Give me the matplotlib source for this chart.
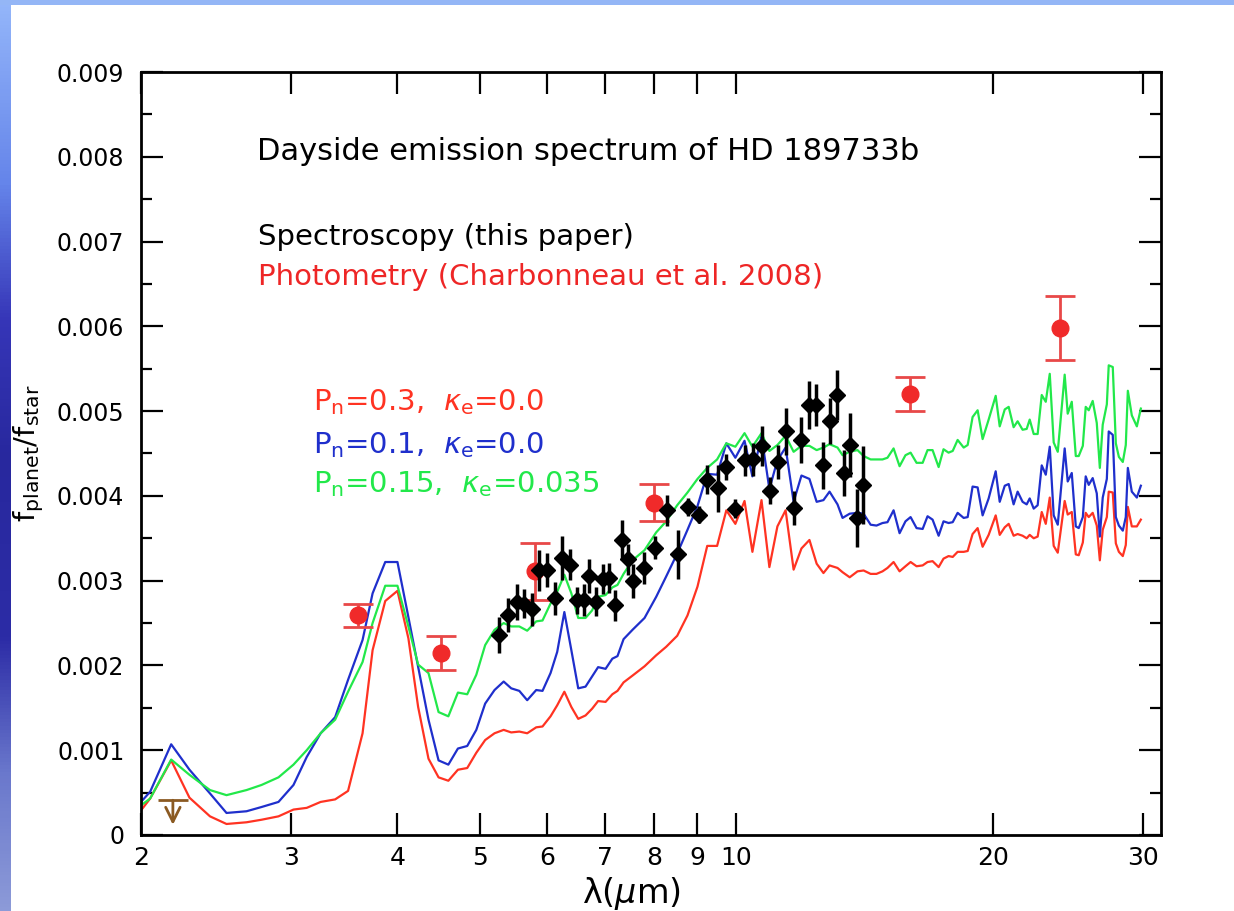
import matplotlib
matplotlib.use('Agg')
import matplotlib.pyplot as plt
import numpy as np
from matplotlib.ticker import MultipleLocator, NullLocator

# model spectra on a common wavelength grid (microns), values in units of 1e-3
wl_model = [2.00, 2.05, 2.17, 2.28, 2.41, 2.52, 2.66, 2.77, 2.90, 3.02,
            3.13, 3.25, 3.38, 3.50, 3.64, 3.74, 3.87, 4.00, 4.12, 4.23,
            4.35, 4.47, 4.59, 4.71, 4.83, 4.95, 5.07, 5.20, 5.33, 5.44,
            5.56, 5.68, 5.82, 5.92, 6.05, 6.16, 6.28, 6.40, 6.52, 6.65,
            6.77, 6.88, 7.02, 7.15, 7.25, 7.37, 7.55, 7.80, 8.05, 8.27,
            8.52, 8.76, 9.00, 9.24, 9.49, 9.73, 9.97, 10.22, 10.44, 10.70,
            10.93, 11.17, 11.42, 11.67, 11.92, 12.18, 12.42, 12.65, 12.86, 13.14,
            13.32, 13.58, 13.87, 14.10, 14.37, 14.60, 14.84, 15.04, 15.29, 15.54,
            15.79, 16.01, 16.27, 16.54, 16.76, 16.99, 17.27, 17.50, 17.74, 17.94,
            18.18, 18.48, 18.68, 18.93, 19.19, 19.45, 19.77, 20.15, 20.37, 20.65,
            20.87, 21.15, 21.38, 21.67, 21.91, 22.09, 22.33, 22.57, 22.82, 23.07,
            23.32, 23.57, 23.83, 24.28, 24.48, 24.75, 25.02, 25.22, 25.50, 25.70,
            25.91, 26.19, 26.48, 26.70, 26.91, 27.21, 27.35, 27.65, 27.88, 28.11,
            28.41, 28.64, 28.80, 29.11, 29.51, 29.83]

# Pn=0.3, ke=0.0
red_model = [0.29, 0.43, 0.88, 0.44, 0.22, 0.13, 0.15, 0.18, 0.22, 0.30,
             0.32, 0.39, 0.42, 0.52, 1.20, 2.18, 2.76, 2.88, 2.32, 1.51,
             0.90, 0.68, 0.64, 0.77, 0.79, 0.97, 1.12, 1.20, 1.24, 1.21,
             1.22, 1.20, 1.27, 1.28, 1.40, 1.53, 1.69, 1.51, 1.37, 1.41,
             1.49, 1.58, 1.57, 1.66, 1.70, 1.80, 1.88, 1.99, 2.12, 2.22,
             2.35, 2.59, 2.93, 3.41, 3.41, 3.83, 3.67, 3.94, 3.34, 3.95,
             3.16, 3.64, 3.83, 3.13, 3.38, 3.48, 3.20, 3.09, 3.18, 3.15,
             3.10, 3.04, 3.11, 3.12, 3.08, 3.08, 3.11, 3.15, 3.22, 3.11,
             3.17, 3.22, 3.17, 3.18, 3.22, 3.23, 3.16, 3.26, 3.29, 3.28,
             3.34, 3.34, 3.35, 3.55, 3.62, 3.40, 3.54, 3.77, 3.54, 3.63,
             3.67, 3.53, 3.55, 3.53, 3.50, 3.54, 3.50, 3.52, 3.81, 3.67,
             3.98, 3.41, 3.33, 3.94, 3.78, 3.81, 3.31, 3.30, 3.45, 3.80,
             3.75, 3.80, 3.65, 3.24, 3.60, 3.75, 4.05, 4.04, 3.44, 3.34,
             3.29, 3.42, 3.87, 3.64, 3.64, 3.72]

# Pn=0.1, ke=0.0
blue_model = [0.39, 0.51, 1.07, 0.77, 0.49, 0.26, 0.28, 0.33, 0.39, 0.59,
              0.92, 1.20, 1.39, 1.83, 2.30, 2.85, 3.22, 3.22, 2.57, 1.98,
              1.36, 0.88, 0.83, 1.02, 1.05, 1.24, 1.55, 1.71, 1.81, 1.73,
              1.70, 1.59, 1.71, 1.70, 1.91, 2.16, 2.63, 2.18, 1.73, 1.75,
              1.87, 1.98, 1.96, 2.08, 2.11, 2.31, 2.42, 2.56, 2.81, 3.05,
              3.32, 3.60, 3.88, 4.26, 4.25, 4.62, 4.45, 4.65, 4.23, 4.71,
              4.08, 4.42, 4.57, 3.93, 4.24, 4.20, 3.93, 3.95, 4.05, 3.90,
              3.74, 3.79, 3.80, 3.79, 3.66, 3.65, 3.68, 3.69, 3.83, 3.56,
              3.70, 3.75, 3.62, 3.61, 3.76, 3.72, 3.53, 3.70, 3.68, 3.69,
              3.80, 3.74, 3.75, 4.11, 4.10, 3.77, 3.97, 4.29, 3.93, 4.12,
              4.14, 3.90, 4.05, 3.93, 3.90, 3.97, 3.85, 3.89, 4.36, 4.25,
              4.58, 3.77, 3.66, 4.56, 4.17, 4.27, 3.64, 3.62, 3.75, 4.23,
              4.13, 4.21, 4.03, 3.52, 3.98, 4.20, 4.76, 4.72, 3.75, 3.65,
              3.59, 3.75, 4.33, 4.05, 3.98, 4.12]

# Pn=0.15, ke=0.035
green_model = [0.35, 0.43, 0.89, 0.71, 0.53, 0.47, 0.53, 0.59, 0.68, 0.83,
               1.00, 1.20, 1.36, 1.69, 2.04, 2.50, 2.94, 2.94, 2.46, 2.01,
               1.91, 1.45, 1.40, 1.68, 1.66, 1.89, 2.24, 2.42, 2.50, 2.46,
               2.46, 2.41, 2.52, 2.53, 2.73, 2.87, 3.07, 2.85, 2.56, 2.56,
               2.65, 2.81, 2.83, 2.92, 2.95, 3.08, 3.24, 3.36, 3.57, 3.70,
               3.89, 4.04, 4.20, 4.33, 4.43, 4.62, 4.58, 4.74, 4.58, 4.74,
               4.53, 4.60, 4.71, 4.52, 4.59, 4.59, 4.54, 4.57, 4.61, 4.57,
               4.48, 4.52, 4.54, 4.47, 4.43, 4.43, 4.43, 4.45, 4.56, 4.35,
               4.48, 4.51, 4.39, 4.39, 4.54, 4.54, 4.34, 4.55, 4.51, 4.53,
               4.66, 4.57, 4.60, 4.93, 5.01, 4.67, 4.90, 5.18, 4.82, 5.02,
               5.05, 4.81, 4.88, 4.78, 4.79, 4.90, 4.73, 4.73, 5.19, 5.11,
               5.44, 4.63, 4.52, 5.43, 4.97, 5.11, 4.47, 4.47, 4.59, 5.05,
               5.01, 5.12, 4.86, 4.33, 4.84, 5.08, 5.54, 5.52, 4.62, 4.46,
               4.40, 4.60, 5.24, 4.95, 4.82, 5.03]

# IRS spectroscopy (this paper)
wl_spec = [5.27, 5.39, 5.52, 5.63, 5.75, 5.87, 6.00, 6.13, 6.24, 6.37,
           6.49, 6.62, 6.72, 6.85, 6.98, 7.08, 7.21, 7.34, 7.46, 7.56,
           7.78, 8.03, 8.29, 8.53, 8.77, 9.03, 9.24, 9.51, 9.73, 9.97,
           10.22, 10.46, 10.72, 10.96, 11.18, 11.43, 11.68, 11.91, 12.16, 12.41,
           12.63, 12.87, 13.13, 13.36, 13.60, 13.86, 14.09]
f_spec = [2.36, 2.60, 2.75, 2.73, 2.66, 3.12, 3.13, 2.79, 3.27, 3.19,
          2.77, 2.77, 3.06, 2.75, 3.02, 3.03, 2.71, 3.48, 3.25, 3.00,
          3.15, 3.39, 3.83, 3.31, 3.87, 3.78, 4.19, 4.09, 4.34, 3.85,
          4.42, 4.43, 4.59, 4.06, 4.40, 4.76, 3.86, 4.66, 5.07, 5.07,
          4.36, 4.88, 5.19, 4.27, 4.60, 3.74, 4.13]
err_spec = [0.21, 0.20, 0.21, 0.17, 0.20, 0.24, 0.20, 0.20, 0.26, 0.18,
            0.16, 0.19, 0.20, 0.17, 0.18, 0.18, 0.18, 0.24, 0.18, 0.20,
            0.19, 0.14, 0.18, 0.29, 0.11, 0.10, 0.17, 0.28, 0.15, 0.11,
            0.18, 0.19, 0.24, 0.16, 0.20, 0.28, 0.20, 0.27, 0.28, 0.25,
            0.28, 0.27, 0.29, 0.27, 0.38, 0.34, 0.46]

# IRAC / IRS / MIPS photometry (Charbonneau et al. 2008)
wl_phot = [3.6, 4.5, 5.8, 8.0, 16.0, 24.0]
f_phot = [2.59, 2.15, 3.11, 3.92, 5.20, 5.98]
err_phot = [0.14, 0.20, 0.34, 0.22, 0.20, 0.38]

# K-band upper limit
wl_ulim = [2.18]
f_ulim = [0.41]

xtick_vals = [2, 3, 4, 5, 6, 7, 8, 9, 10, 20, 30]
xtick_labels = ['2', '3', '4', '5', '6', '7', '8', '9', '10', '20', '30']
ytick_vals = [0, 0.001, 0.002, 0.003, 0.004, 0.005, 0.006, 0.007, 0.008, 0.009]
ytick_labels = ['0', '0.001', '0.002', '0.003', '0.004', '0.005', '0.006', '0.007', '0.008', '0.009']

scale = 1e-3  # table values are in units of 1e-3

fig = plt.figure(figsize=(12.34, 9.11), dpi=100)

# slide border: blue strip down the left, thin band along the top
strip = fig.add_axes([0, 0, 11 / 1234, 1])
grad = matplotlib.colors.LinearSegmentedColormap.from_list(
    'slide', [(0.0, '#8c9ad8'), (0.15, '#6a78cc'), (0.3, '#2c2ca6'),
              (0.5, '#28289e'), (0.65, '#3636b8'), (0.8, '#6585ea'), (1.0, '#94b6fa')])
strip.imshow(np.linspace(0, 1, 256).reshape(-1, 1), aspect='auto', cmap=grad, origin='lower')
strip.axis('off')
band = fig.add_axes([0, 1 - 5 / 911, 1, 5 / 911])
band.set_facecolor('#94b6f6')
band.set_xticks([])
band.set_yticks([])
for s in band.spines.values():
    s.set_visible(False)

ax = fig.add_axes([141 / 1234, 1 - 835 / 911, 1020 / 1234, 763 / 911])

# models
wl = np.array(wl_model)
ax.plot(wl, np.array(red_model) * scale, color='#ff3322', lw=1.6)
ax.plot(wl, np.array(blue_model) * scale, color='#1f2fcc', lw=1.6)
ax.plot(wl, np.array(green_model) * scale, color='#22e84a', lw=1.6)

# data
ax.errorbar(wl_phot, np.array(f_phot) * scale, yerr=np.array(err_phot) * scale,
            fmt='o', color='#f02a2a', ecolor='#e84848', ms=12, elinewidth=2,
            capsize=11, capthick=2, zorder=5)
ax.errorbar(wl_spec, np.array(f_spec) * scale, yerr=np.array(err_spec) * scale,
            fmt='D', color='black', ms=8, elinewidth=2.5, capsize=0, zorder=6)

# upper limit: flat bar with a downward arrow
for x, y in zip(wl_ulim, f_ulim):
    ax.plot([x], [y * scale], marker='_', ms=22, mew=2, color='#8b5a22')
    ax.annotate('', xy=(x, (y - 0.29) * scale), xytext=(x, y * scale),
                arrowprops=dict(arrowstyle='->', color='#8b5a22', lw=2,
                                mutation_scale=26, shrinkA=0, shrinkB=0))

ax.set_xscale('log')
ax.set_xlim(2, 31.5)
ax.set_ylim(0, 0.009)
ax.set_xticks(xtick_vals)
ax.set_xticklabels(xtick_labels)
ax.xaxis.set_minor_locator(NullLocator())
ax.set_yticks(ytick_vals)
ax.set_yticklabels(ytick_labels)
ax.yaxis.set_minor_locator(MultipleLocator(0.0005))

ax.tick_params(which='both', direction='in', top=True, right=True, width=1.6)
ax.tick_params(which='major', length=16)
ax.tick_params(which='minor', length=8)
ax.tick_params(axis='y', labelsize=17, pad=12)
ax.tick_params(axis='x', labelsize=18, pad=8)
for s in ax.spines.values():
    s.set_linewidth(2)

ax.set_xlabel(r'λ($\mu$m)', fontsize=24)
ax.xaxis.set_label_coords(0.481, -0.052)
ax.set_ylabel(r'f$_{\rm planet}$/f$_{\rm star}$', fontsize=21)
ax.yaxis.set_label_coords(-0.093, 0.5)

# annotations
ax.text(0.1137, 0.885, 'Dayside emission spectrum of HD 189733b',
        transform=ax.transAxes, fontsize=22)
ax.text(0.1147, 0.773, 'Spectroscopy (this paper)',
        transform=ax.transAxes, fontsize=21)
ax.text(0.1147, 0.721, 'Photometry (Charbonneau et al. 2008)',
        transform=ax.transAxes, fontsize=21, color='#ee2626')
ax.text(0.1686, 0.557, r'P$_{\rm n}$=0.3,  $\kappa_{\rm e}$=0.0',
        transform=ax.transAxes, fontsize=21, color='#ff3322')
ax.text(0.1686, 0.501, r'P$_{\rm n}$=0.1,  $\kappa_{\rm e}$=0.0',
        transform=ax.transAxes, fontsize=21, color='#1f2fcc')
ax.text(0.1686, 0.449, r'P$_{\rm n}$=0.15,  $\kappa_{\rm e}$=0.035',
        transform=ax.transAxes, fontsize=21, color='#22e84a')

fig.savefig('out.png', dpi=100)
